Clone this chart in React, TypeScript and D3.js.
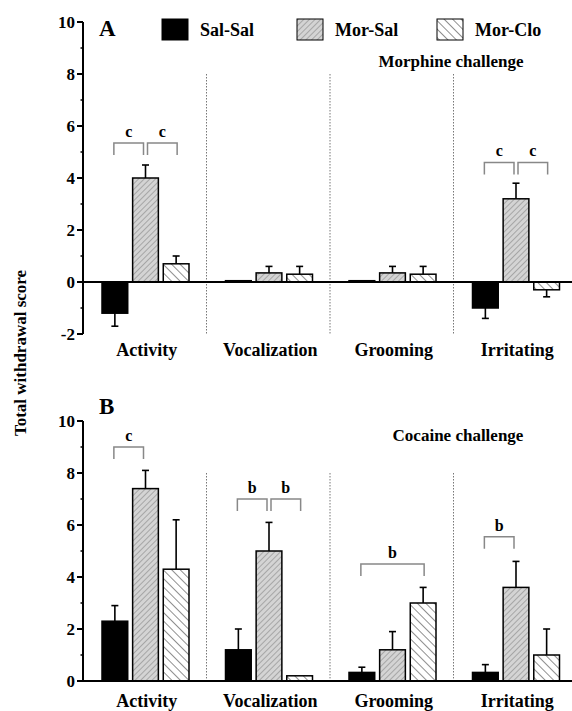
import React from 'react';
import * as d3 from 'd3';

const categories = ['Activity', 'Vocalization', 'Grooming', 'Irritating'];
const groups = ['Sal-Sal', 'Mor-Sal', 'Mor-Clo'];

// panel A: morphine challenge (mean, sem) per category, in group order
const morphineMeans = [
  [-1.2, 4.0, 0.7],
  [0.05, 0.35, 0.3],
  [0.05, 0.35, 0.3],
  [-1.0, 3.2, -0.3],
];
const morphineErrors = [
  [0.5, 0.5, 0.3],
  [0, 0.25, 0.3],
  [0, 0.25, 0.3],
  [0.4, 0.6, 0.27],
];

// panel B: cocaine challenge
const cocaineMeans = [
  [2.3, 7.4, 4.3],
  [1.2, 5.0, 0.2],
  [0.33, 1.2, 3.0],
  [0.33, 3.6, 1.0],
];
const cocaineErrors = [
  [0.6, 0.7, 1.9],
  [0.8, 1.1, 0],
  [0.2, 0.7, 0.6],
  [0.3, 1.0, 1.0],
];

const morphineBrackets = [
  { cat: 'Activity', from: 'Sal-Sal', to: 'Mor-Sal', top: 5.35, label: 'c' },
  { cat: 'Activity', from: 'Mor-Sal', to: 'Mor-Clo', top: 5.35, label: 'c' },
  { cat: 'Irritating', from: 'Sal-Sal', to: 'Mor-Sal', top: 4.6, label: 'c' },
  { cat: 'Irritating', from: 'Mor-Sal', to: 'Mor-Clo', top: 4.6, label: 'c' },
];
const cocaineBrackets = [
  { cat: 'Activity', from: 'Sal-Sal', to: 'Mor-Sal', top: 9.0, label: 'c' },
  { cat: 'Vocalization', from: 'Sal-Sal', to: 'Mor-Sal', top: 7.0, label: 'b' },
  { cat: 'Vocalization', from: 'Mor-Sal', to: 'Mor-Clo', top: 7.0, label: 'b' },
  { cat: 'Grooming', from: 'Sal-Sal', to: 'Mor-Clo', top: 4.5, label: 'b' },
  { cat: 'Irritating', from: 'Sal-Sal', to: 'Mor-Sal', top: 5.55, label: 'b' },
];

const yTicksA = [-2, 0, 2, 4, 6, 8, 10];
const yTicksB = [0, 2, 4, 6, 8, 10];

const FONT = '"Liberation Serif", "DejaVu Serif", serif';
const fills: Record<string, string> = {
  'Sal-Sal': '#000',
  'Mor-Sal': 'url(#hatchMorSal)',
  'Mor-Clo': 'url(#hatchMorClo)',
};

const x = d3.scaleBand<string>().domain(categories).range([83, 577]);
const inner = d3.scaleBand<string>().domain(groups).range([19, 106]).paddingInner(0.16);

const center = (cat: string, g: string) => (x(cat) || 0) + (inner(g) || 0) + inner.bandwidth() / 2;

type Bracket = { cat: string; from: string; to: string; top: number; label: string };

interface PanelProps {
  y: d3.ScaleLinear<number, number>;
  ticks: number[];
  means: number[][];
  errors: number[][];
  brackets: Bracket[];
  sepTop: number;
  sepBottom: number;
  catLabelY: number;
}

const Panel: React.FC<PanelProps> = ({ y, ticks, means, errors, brackets, sepTop, sepBottom, catLabelY }) => {
  const [d0, d1] = y.domain();
  const minor = d3.range(d0 + 1, d1, 2);
  return (
    <g>
      {/* separators */}
      {categories.slice(1).map(c => (
        <line key={c} x1={x(c)} x2={x(c)} y1={y(sepTop)} y2={y(sepBottom)}
          stroke="#777" strokeWidth={1} strokeDasharray="1.5,1.5" />
      ))}
      {/* bars */}
      {categories.map((c, ci) => groups.map((g, gi) => {
        const v = means[ci][gi];
        const e = errors[ci][gi];
        const bx = (x(c) || 0) + (inner(g) || 0);
        const top = Math.min(y(v), y(0));
        const h = Math.max(Math.abs(y(v) - y(0)), 1.5);
        const cx = center(c, g);
        const end = v >= 0 ? v + e : v - e;
        return (
          <g key={c + g}>
            {e > 0 && (
              <g stroke="#000" strokeWidth={1.6}>
                <line x1={cx} x2={cx} y1={y(v)} y2={y(end)} />
                <line x1={cx - 3.5} x2={cx + 3.5} y1={y(end)} y2={y(end)} />
              </g>
            )}
            <rect x={bx} y={top} width={inner.bandwidth()} height={h}
              fill={fills[g]} stroke="#000" strokeWidth={1.5} />
          </g>
        );
      }))}
      {/* brackets */}
      {brackets.map((b, i) => {
        const x1 = center(b.cat, b.from) + (b.from === 'Mor-Sal' ? 2 : -1);
        const x2 = center(b.cat, b.to) - (b.to === 'Mor-Sal' ? 2 : -1);
        const yt = y(b.top);
        return (
          <g key={i}>
            <path d={`M${x1},${yt + 12}V${yt}H${x2}V${yt + 12}`} fill="none" stroke="#888" strokeWidth={1.5} />
            <text x={(x1 + x2) / 2} y={yt - 6} textAnchor="middle" fontFamily={FONT}
              fontWeight="bold" fontSize={16}>{b.label}</text>
          </g>
        );
      })}
      {/* baseline and y axis */}
      <line x1={83} x2={572} y1={y(0)} y2={y(0)} stroke="#000" strokeWidth={1.8} />
      <line x1={83} x2={83} y1={y(d0)} y2={y(d1)} stroke="#000" strokeWidth={2} />
      {ticks.map(t => (
        <g key={t}>
          <line x1={77} x2={83} y1={y(t)} y2={y(t)} stroke="#000" strokeWidth={2} />
          <text x={75} y={y(t)} dy="0.35em" textAnchor="end" fontFamily={FONT}
            fontWeight="bold" fontSize={17}>{t}</text>
        </g>
      ))}
      {minor.map(t => (
        <line key={t} x1={80.5} x2={83} y1={y(t)} y2={y(t)} stroke="#000" strokeWidth={1.5} />
      ))}
      {categories.map(c => (
        <text key={c} x={(x(c) || 0) + x.bandwidth() / 2 + 2} y={catLabelY} textAnchor="middle"
          fontFamily={FONT} fontWeight="bold" fontSize={18}>{c}</text>
      ))}
    </g>
  );
};

export default function App() {
  const yA = d3.scaleLinear().domain([-2, 10]).range([334, 22]);
  const yB = d3.scaleLinear().domain([0, 10]).range([681, 421]);

  return (
    <svg width={572} height={711} style={{ position: 'absolute', left: 0, top: 0, background: '#fff' }}>
      <defs>
        <pattern id="hatchMorSal" patternUnits="userSpaceOnUse" width={4} height={4} patternTransform="rotate(45)">
          <rect width={4} height={4} fill="#d4d4d4" />
          <line x1={0} y1={0} x2={0} y2={4} stroke="#808080" strokeWidth={1.1} />
        </pattern>
        <pattern id="hatchMorClo" patternUnits="userSpaceOnUse" width={6} height={6} patternTransform="rotate(-45)">
          <rect width={6} height={6} fill="#fff" />
          <line x1={0} y1={0} x2={0} y2={6} stroke="#333" strokeWidth={1.1} />
        </pattern>
      </defs>
      <rect width={572} height={711} fill="#fff" />

      <Panel y={yA} ticks={yTicksA} means={morphineMeans} errors={morphineErrors}
        brackets={morphineBrackets} sepTop={8} sepBottom={-2} catLabelY={356} />
      <Panel y={yB} ticks={yTicksB} means={cocaineMeans} errors={cocaineErrors}
        brackets={cocaineBrackets} sepTop={8} sepBottom={0.1} catLabelY={707} />

      <text x={99} y={36} fontFamily={FONT} fontWeight="bold" fontSize={23}>A</text>
      <text x={99} y={414} fontFamily={FONT} fontWeight="bold" fontSize={23}>B</text>

      {/* legend */}
      {groups.map((g, i) => {
        const lx = [162, 297, 437][i];
        return (
          <g key={g}>
            <rect x={lx} y={19} width={26} height={21} fill={fills[g]} stroke="#000" strokeWidth={1} />
            <text x={lx + 38} y={36} fontFamily={FONT} fontWeight="bold" fontSize={18}>{g}</text>
          </g>
        );
      })}
      <text x={451} y={67} textAnchor="middle" fontFamily={FONT} fontWeight="bold" fontSize={17}>Morphine challenge</text>
      <text x={458} y={441} textAnchor="middle" fontFamily={FONT} fontWeight="bold" fontSize={17}>Cocaine challenge</text>

      <text transform="translate(26,353) rotate(-90)" textAnchor="middle" fontFamily={FONT}
        fontWeight="bold" fontSize={17}>Total withdrawal score</text>
    </svg>
  );
}
